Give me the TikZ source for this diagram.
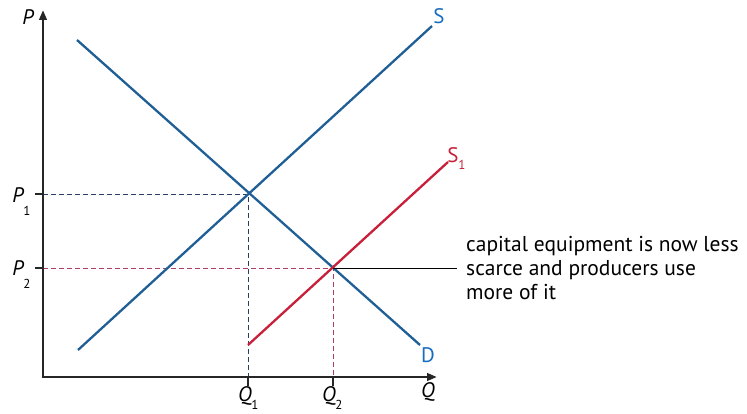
\documentclass[tikz,border=0pt]{standalone}
\usepackage{fontspec}
\setmainfont{PT Sans}
\usetikzlibrary{arrows.meta}
\definecolor{curveblue}{RGB}{32,95,150}
\definecolor{labelblue}{RGB}{22,108,190}
\definecolor{curvered}{RGB}{200,32,58}
\definecolor{dashblue}{RGB}{40,62,100}
\definecolor{dashred}{RGB}{172,62,102}

\begin{document}
\begin{tikzpicture}[
  x=1pt, y=-1pt,
  axis/.style={line width=2.6pt, draw=black!85, -{Triangle[length=10pt,width=7.5pt]}},
  curve/.style={line width=2.3pt, draw=curveblue},
  shifted/.style={line width=2.3pt, draw=curvered},
  guide/.style={dash pattern=on 5pt off 3pt, line width=0.9pt},
  tickmark/.style={line width=2.6pt, draw=black!85},
  axlab/.style={font=\fontsize{21}{21}\selectfont\itshape, inner sep=0pt},
  curvelab/.style={font=\fontsize{21}{21}\selectfont, inner sep=0pt},
  sub/.style={font=\fontsize{13}{13}\selectfont, inner sep=0pt},
  note/.style={font=\fontsize{21.5}{24}\selectfont, align=left, inner xsep=9pt, inner ysep=0pt}
]
  \useasboundingbox (0,0) rectangle (747,414);

  % points of the graph
  \coordinate (O) at (43,377);
  \coordinate (Ptop) at (43,10);
  \coordinate (Qend) at (437,377);
  \coordinate (E1) at (248,194);
  \coordinate (E2) at (333,268);
  \coordinate (P1) at (35,194);
  \coordinate (P2) at (35,268);
  \coordinate (Q1) at (248,386);
  \coordinate (Q2) at (333,386);
  \coordinate (Dtop) at (77,40);
  \coordinate (Dbot) at (420,345);
  \coordinate (Sbot) at (78,350);
  \coordinate (Stop) at (432,26);
  \coordinate (Sabot) at (248,345);
  \coordinate (Satop) at (448,162);

  % dashed guides
  \draw[guide, draw=dashblue] (O |- E1) -- (E1) -- (E1 |- O);
  \draw[guide, draw=dashred] (O |- E2) -- (E2) -- (E2 |- O);

  % curves
  \draw[curve] (Dtop) -- (Dbot);
  \draw[curve] (Sbot) -- (Stop);
  \draw[shifted] (Sabot) -- (Satop);

  % axes and ticks
  \draw[axis] (O) -- (Ptop);
  \draw[axis] ([xshift=-1.3pt]O) -- (Qend);
  \draw[tickmark] (P1) -- (O |- P1);
  \draw[tickmark] (P2) -- (O |- P2);
  \draw[tickmark] (Q1) -- (Q1 |- O);
  \draw[tickmark] (Q2) -- (Q2 |- O);

  % axis labels
  \node[axlab] (Plab) at (28,17) {P};
  \node[axlab] (Qlab) at (428,392) {Q};
  \node[axlab] (P1lab) at (18,195) {P};
  \node[sub] at (27,211) {1};
  \node[axlab] (P2lab) at (18,268) {P};
  \node[sub] at (27,284) {2};
  \node[axlab] (Q1lab) at (245,396) {Q};
  \node[sub] at (255,405) {1};
  \node[axlab] (Q2lab) at (329,396) {Q};
  \node[sub] at (339,405) {2};

  % curve labels
  \node[curvelab, text=labelblue] (Slab) at (439,16) {S};
  \node[curvelab, text=labelblue] (Dlab) at (428,355) {D};
  \node[curvelab, text=curvered] (S1lab) at (453,155) {S};
  \node[sub, text=curvered] at (462,165) {1};

  % annotation
  \node[note, anchor=west] (notebox) at (457,268)
    {capital equipment is now less\\scarce and producers use\\more of it};
  \draw[line width=0.9pt] (E2) -- (notebox.west);
\end{tikzpicture}
\end{document}
